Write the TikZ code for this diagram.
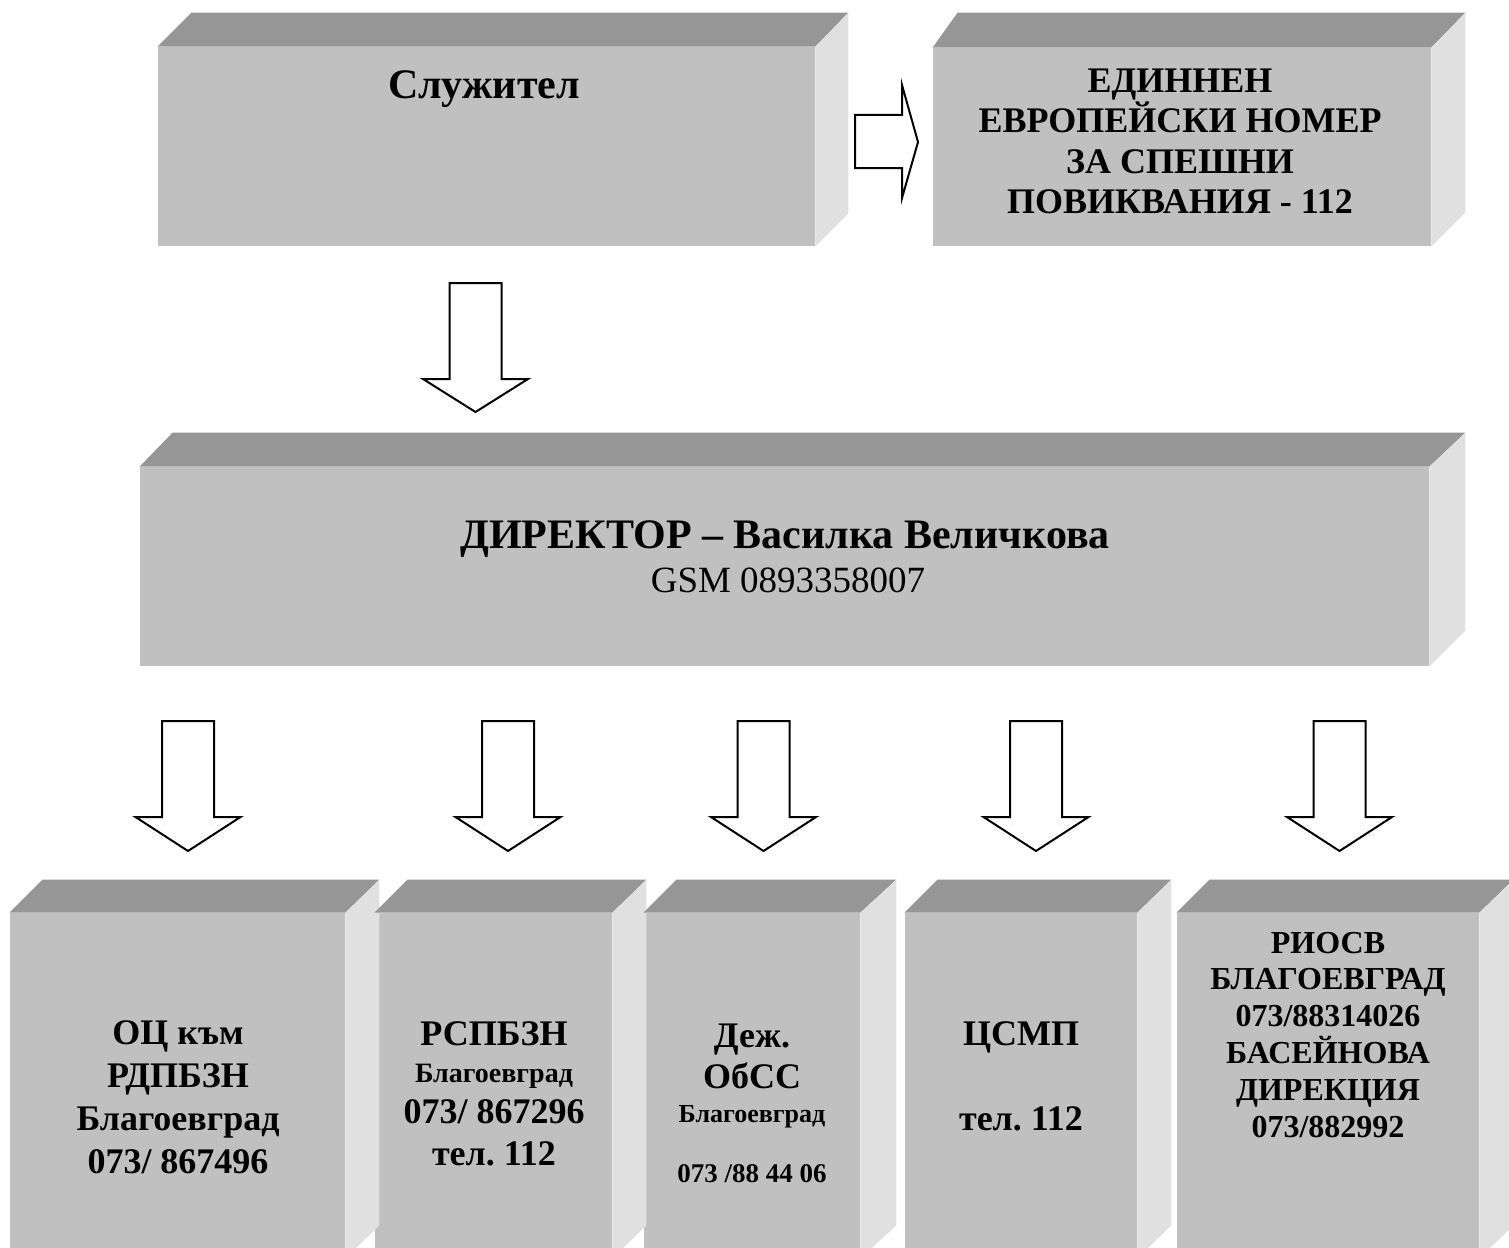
\documentclass[tikz,border=0pt]{standalone}
\usepackage{fontspec}
\setmainfont{Liberation Serif}
\usetikzlibrary{calc}
\definecolor{frontgray}{HTML}{C0C0C0}
\definecolor{topgray}{HTML}{969696}
\definecolor{sidegray}{HTML}{E0E0E0}
\begin{document}
\frenchspacing
\begin{tikzpicture}[x=0.5pt, y=-0.5pt,
    front/.style={rectangle, fill=frontgray, draw=none, inner sep=0pt},
    topface/.style={fill=topgray},
    sideface/.style={fill=sidegray},
    blockarrow/.style={draw=black, fill=white, line width=1pt, line join=miter},
    lbl/.style={anchor=base, align=center, inner sep=0pt, font=\bfseries}]
  \useasboundingbox (0,0) rectangle (1509,1247);
  \clip (0,0) rectangle (1509,1247);

  % top row
  \node[front, minimum width=328.5pt, minimum height=99.5pt] (sluz) at (486.5,146.5) {};
  \fill[topface] (sluz.north west) -- ++(34,-34) -- ($(sluz.north east)+(33,-34)$) -- (sluz.north east) -- cycle;
  \fill[sideface] (sluz.north east) -- ++(33,-34) -- ($(sluz.south east)+(33,-33)$) -- (sluz.south east) -- cycle;
  \node[front, minimum width=249pt, minimum height=99pt] (edin) at (1182,147) {};
  \fill[topface] (edin.north west) -- ++(25,-35) -- ($(edin.north east)+(34,-35)$) -- (edin.north east) -- cycle;
  \fill[sideface] (edin.north east) -- ++(34,-35) -- ($(edin.south east)+(34,-34)$) -- (edin.south east) -- cycle;

  % director
  \node[front, minimum width=644.5pt, minimum height=99.5pt] (dir) at (784.5,566.5) {};
  \fill[topface] (dir.north west) -- ++(33,-34) -- ($(dir.north east)+(36,-34)$) -- (dir.north east) -- cycle;
  \fill[sideface] (dir.north east) -- ++(36,-34) -- ($(dir.south east)+(36,-36)$) -- (dir.south east) -- cycle;

  % bottom row
  \node[front, minimum width=167.5pt, minimum height=172.5pt] (oc) at (177.5,1085.5) {};
  \node[front, minimum width=118.5pt, minimum height=172.5pt] (rsp) at (493.5,1085.5) {};
  \node[front, minimum width=108pt, minimum height=172.5pt] (dezh) at (752,1085.5) {};
  \node[front, minimum width=116pt, minimum height=172.5pt] (csmp) at (1021,1085.5) {};
  \node[front, minimum width=151pt, minimum height=172.5pt] (rios) at (1328,1085.5) {};
  \fill[topface] (oc.north west) -- ++(33,-33) -- ($(oc.north east)+(34,-33)$) -- (oc.north east) -- cycle;
  \fill[sideface] (oc.north east) -- ++(34,-33) -- ($(oc.south east)+(34,-33)$) -- (oc.south east) -- cycle;
  \fill[topface] (rsp.north west) -- ++(33,-33) -- ($(rsp.north east)+(34,-33)$) -- (rsp.north east) -- cycle;
  \fill[sideface] (rsp.north east) -- ++(34,-33) -- ($(rsp.south east)+(34,-33)$) -- (rsp.south east) -- cycle;
  \fill[topface] (dezh.north west) -- ++(33,-33) -- ($(dezh.north east)+(36,-33)$) -- (dezh.north east) -- cycle;
  \fill[sideface] (dezh.north east) -- ++(36,-33) -- ($(dezh.south east)+(36,-33)$) -- (dezh.south east) -- cycle;
  \fill[topface] (csmp.north west) -- ++(33,-33) -- ($(csmp.north east)+(34,-33)$) -- (csmp.north east) -- cycle;
  \fill[sideface] (csmp.north east) -- ++(34,-33) -- ($(csmp.south east)+(34,-33)$) -- (csmp.south east) -- cycle;
  \fill[topface] (rios.north west) -- ++(33,-33) -- ($(rios.north east)+(34,-33)$) -- (rios.north east) -- cycle;
  \fill[sideface] (rios.north east) -- ++(34,-33) -- ($(rios.south east)+(34,-33)$) -- (rios.south east) -- cycle;

  % texts (multi-line nodes sit on their last baseline)
  \node[lbl, font=\bfseries\fontsize{21}{24}\selectfont] (sluz-t) at (484,98) {Служител};
  \node[lbl, font=\bfseries\fontsize{18}{20}\selectfont] (edin-t) at (1180,213)
    {ЕДИННЕН\\ЕВРОПЕЙСКИ НОМЕР\\ЗА СПЕШНИ\\ПОВИКВАНИЯ - 112};
  \node[lbl, font=\bfseries\fontsize{21}{24}\selectfont] (dir-t) at (785,548) {ДИРЕКТОР – Василка Величкова};
  \node[lbl, font=\fontsize{18.5}{22}\selectfont] (dir-gsm) at (788,592) {GSM 0893358007};
  \node[lbl, font=\bfseries\fontsize{18}{21.5}\selectfont] (oc-t) at (178,1173)
    {ОЦ към\\РДПБЗН\\Благоевград\\073/ 867496};
  \node[lbl, font=\bfseries\fontsize{18}{21}\selectfont] (rsp-1) at (494,1045) {РСПБЗН};
  \node[lbl, font=\bfseries\fontsize{14}{16}\selectfont] (rsp-2) at (494,1082) {Благоевград};
  \node[lbl, font=\bfseries\fontsize{18}{21}\selectfont] (rsp-3) at (494,1165) {073/ 867296\\тел. 112};
  \node[lbl, font=\bfseries\fontsize{18}{20.5}\selectfont] (dezh-1) at (752,1088) {Деж.\\ОбСС};
  \node[lbl, font=\bfseries\fontsize{13}{15}\selectfont] (dezh-2) at (752,1122) {Благоевград};
  \node[lbl, font=\bfseries\fontsize{13.5}{15}\selectfont] (dezh-3) at (752,1182) {073 /88 44 06};
  \node[lbl, font=\bfseries\fontsize{18}{21}\selectfont] (csmp-1) at (1021,1045) {ЦСМП};
  \node[lbl, font=\bfseries\fontsize{18}{21}\selectfont] (csmp-2) at (1021,1130) {тел. 112};
  \node[lbl, font=\bfseries\fontsize{16}{18.4}\selectfont] (rios-t) at (1328,1137)
    {РИОСВ\\БЛАГОЕВГРАД\\073/88314026\\БАСЕЙНОВА\\ДИРЕКЦИЯ\\073/882992};

  % block arrows
  \coordinate (ar) at (918,142);
  \draw[blockarrow] (ar) -- ++(-16,-57) -- ++(0,30) -- ++(-47,0) -- ++(0,53) -- ++(47,0) -- ++(0,30) -- cycle;
  \coordinate (ad0) at (475.5,412);
  \draw[blockarrow] (ad0) -- ++(-52.5,-33) -- ++(26.5,0) -- ++(0,-96) -- ++(52,0) -- ++(0,96) -- ++(26.5,0) -- cycle;
  \coordinate (ad1) at (188,851);
  \draw[blockarrow] (ad1) -- ++(-52.5,-34) -- ++(26.5,0) -- ++(0,-96) -- ++(52,0) -- ++(0,96) -- ++(26.5,0) -- cycle;
  \coordinate (ad2) at (508,851);
  \draw[blockarrow] (ad2) -- ++(-52.5,-34) -- ++(26.5,0) -- ++(0,-96) -- ++(52,0) -- ++(0,96) -- ++(26.5,0) -- cycle;
  \coordinate (ad3) at (763.5,851);
  \draw[blockarrow] (ad3) -- ++(-52.5,-34) -- ++(26.5,0) -- ++(0,-96) -- ++(52,0) -- ++(0,96) -- ++(26.5,0) -- cycle;
  \coordinate (ad4) at (1036,851);
  \draw[blockarrow] (ad4) -- ++(-52.5,-34) -- ++(26.5,0) -- ++(0,-96) -- ++(52,0) -- ++(0,96) -- ++(26.5,0) -- cycle;
  \coordinate (ad5) at (1339.5,851);
  \draw[blockarrow] (ad5) -- ++(-52.5,-34) -- ++(26.5,0) -- ++(0,-96) -- ++(52,0) -- ++(0,96) -- ++(26.5,0) -- cycle;
\end{tikzpicture}
\end{document}
